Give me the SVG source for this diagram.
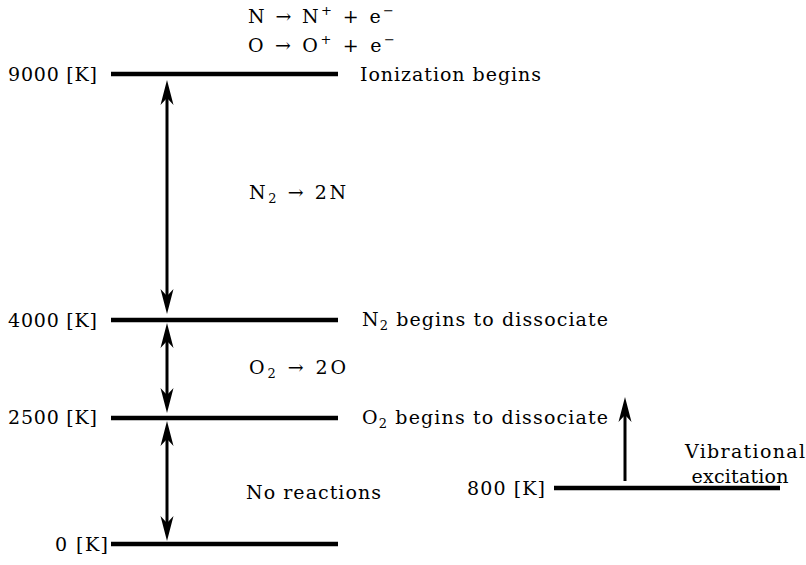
<svg xmlns="http://www.w3.org/2000/svg" width="806" height="565" viewBox="0 0 806 565">
<style>
text{font-family:'DejaVu Serif','Liberation Serif',serif;font-size:19px;fill:#000}
.lvl{stroke:#000;stroke-width:4.5}
.arr{stroke:#000;stroke-width:3;fill:none}
.sub{font-size:13px}
</style>
<defs>
<path id="up" d="M0,0 L6.5,25 L0,18 L-6.5,25 Z" fill="#000"/>
<path id="dn" d="M0,0 L6.5,-25 L0,-18 L-6.5,-25 Z" fill="#000"/>
</defs>
<rect width="806" height="565" fill="#fff"/>
<g id="level-9000">
<line class="lvl" x1="111" y1="74" x2="338" y2="74"/>
<text x="97" y="81" text-anchor="end" textLength="89">9000 [K]</text>
<text x="360" y="81" textLength="181">Ionization begins</text>
<text x="248" y="23" textLength="146">N → N<tspan class="sub" dy="-8">+</tspan><tspan dy="8"> + e</tspan><tspan class="sub" dy="-8">−</tspan></text>
<text x="248" y="52" textLength="147">O → O<tspan class="sub" dy="-8">+</tspan><tspan dy="8"> + e</tspan><tspan class="sub" dy="-8">−</tspan></text>
</g>
<g id="level-4000">
<line class="lvl" x1="111" y1="320" x2="338" y2="320"/>
<text x="97" y="327" text-anchor="end" textLength="89">4000 [K]</text>
<text x="362" y="326" textLength="246">N<tspan class="sub" dy="4">2</tspan><tspan dy="-4"> begins to dissociate</tspan></text>
</g>
<g id="level-2500">
<line class="lvl" x1="111" y1="418" x2="338" y2="418"/>
<text x="97" y="424" text-anchor="end" textLength="89">2500 [K]</text>
<text x="362" y="424" textLength="246">O<tspan class="sub" dy="4">2</tspan><tspan dy="-4"> begins to dissociate</tspan></text>
</g>
<g id="level-0">
<line class="lvl" x1="111" y1="544" x2="338" y2="544"/>
<text x="108" y="551" text-anchor="end" textLength="53">0 [K]</text>
</g>
<g id="level-800">
<line class="lvl" x1="554" y1="488" x2="780" y2="488"/>
<text x="545" y="495" text-anchor="end" textLength="78">800 [K]</text>
<text x="745" y="458" text-anchor="middle" textLength="120">Vibrational</text>
<text x="740" y="483" text-anchor="middle" textLength="97">excitation</text>
</g>
<g id="labels">
<text x="249" y="199" textLength="97">N<tspan class="sub" dy="4">2</tspan><tspan dy="-4"> → 2N</tspan></text>
<text x="249" y="374" textLength="97">O<tspan class="sub" dy="4">2</tspan><tspan dy="-4"> → 2O</tspan></text>
<text x="246" y="499" textLength="135">No reactions</text>
</g>
<g id="connectors">
<line class="arr" x1="167" y1="95" x2="167" y2="299"/>
<use href="#up" x="167" y="80"/>
<use href="#dn" x="167" y="314"/>
<line class="arr" x1="167" y1="338" x2="167" y2="398"/>
<use href="#up" x="167" y="323"/>
<use href="#dn" x="167" y="413"/>
<line class="arr" x1="167" y1="436" x2="167" y2="526"/>
<use href="#up" x="167" y="421"/>
<use href="#dn" x="167" y="541"/>
<line class="arr" x1="625" y1="481" x2="625" y2="412"/>
<use href="#up" x="625" y="397"/>
</g>
</svg>
